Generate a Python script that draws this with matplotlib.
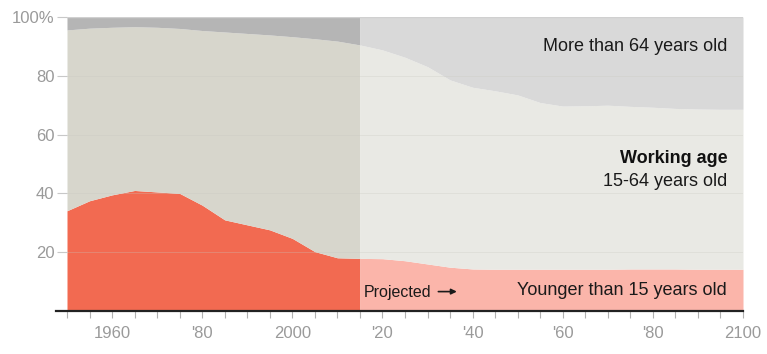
"""Share of population by age group, 1950-2100 (history + projection)."""
import matplotlib
matplotlib.use("Agg")
import matplotlib.pyplot as plt
import numpy as np

plt.rcParams['font.family'] = ['Liberation Sans', 'DejaVu Sans']

# data (percent of population)
years = list(range(1950, 2101, 5))
young_pct = [34.1, 37.5, 39.5, 41.0, 40.5, 40.0, 36.0, 31.0, 29.3, 27.6, 24.7,
             20.2, 18.1, 17.9, 17.8, 17.1, 16.0, 14.9, 14.3, 14.2, 14.2, 14.2,
             14.2, 14.2, 14.2, 14.3, 14.3, 14.3, 14.2, 14.2, 14.2]
old_pct = [4.4, 3.8, 3.5, 3.3, 3.5, 3.9, 4.6, 5.1, 5.6, 6.1, 6.7, 7.4, 8.2,
           9.5, 11.2, 13.7, 16.9, 21.4, 23.9, 25.1, 26.5, 29.1, 30.3, 30.2,
           30.0, 30.4, 30.7, 31.1, 31.3, 31.4, 31.4]
projection_start = 2015

x_ticks = [1960, 1980, 2000, 2020, 2040, 2060, 2080, 2100]
x_ticklabels = ["1960", "'80", "2000", "'20", "'40", "'60", "'80", "2100"]
y_ticks = [20, 40, 60, 80, 100]
y_ticklabels = ["20", "40", "60", "80", "100%"]

yr = np.array(years)
young = np.array(young_pct)
working_top = 100 - np.array(old_pct)

hist = yr <= projection_start
proj = yr >= projection_start

fig = plt.figure(figsize=(7.67, 3.54), dpi=100)
ax = fig.add_axes([67 / 767, 1 - 311 / 354, 676 / 767, 294 / 354])

# historical part
ax.fill_between(yr[hist], 0, young[hist], color='#f26a51', lw=0)
ax.fill_between(yr[hist], young[hist], working_top[hist], color='#d7d6cc', lw=0)
ax.fill_between(yr[hist], working_top[hist], 100, color='#b5b5b5', lw=0)
# projected part
ax.fill_between(yr[proj], 0, young[proj], color='#fbb5aa', lw=0)
ax.fill_between(yr[proj], young[proj], working_top[proj], color='#e9e9e4', lw=0)
ax.fill_between(yr[proj], working_top[proj], 100, color='#d9d9d9', lw=0)

# faint gridlines
for v in [20, 40, 60, 80]:
    ax.axhline(v, color='#c8c8c0', lw=0.6, alpha=0.35, zorder=3)
ax.axhline(100, color='#d0d0d0', lw=1.0, zorder=3)

ax.set_xlim(1950, 2100)
ax.set_ylim(0, 100)
for s in ax.spines.values():
    s.set_visible(False)
# baseline reaches a bit to the left of the plot
ax.plot([-0.016, 1.0], [0, 0], transform=ax.transAxes, color='#222222',
        lw=1.6, clip_on=False, zorder=5)

ax.set_xticks(x_ticks)
ax.set_xticklabels(x_ticklabels)
ax.set_xticks(range(1950, 2101, 5), minor=True)
ax.tick_params(axis='x', which='both', direction='out', length=5, width=0.8,
               color='#b0b0b0', labelsize=12, labelcolor='#9a9a9a', pad=6)
ax.set_yticks(y_ticks)
ax.set_yticklabels(y_ticklabels)
ax.tick_params(axis='y', direction='out', length=7, width=0.8,
               color='#c8c8c8', labelsize=12, labelcolor='#9a9a9a', pad=2)

# labels
lx = 2096.5
ax.text(lx, 89.8, "More than 64 years old", ha='right', va='center',
        fontsize=13, color='#1a1a1a')
ax.text(lx, 52.0, "Working age", ha='right', va='center', fontsize=13,
        fontweight='bold', color='#111111')
ax.text(lx, 44.2, "15-64 years old", ha='right', va='center', fontsize=13,
        color='#1a1a1a')
ax.text(lx, 7.1, "Younger than 15 years old", ha='right', va='center',
        fontsize=13, color='#1a1a1a')
ax.text(2015.8, 6.3, "Projected", ha='left', va='center', fontsize=11.5,
        color='#1a1a1a')
ax.annotate("", xy=(2036.5, 6.6), xytext=(2032.4, 6.6),
            arrowprops=dict(arrowstyle='-|>', color='#1a1a1a', lw=1.2,
                            mutation_scale=8, shrinkA=0, shrinkB=0))

fig.savefig("out.png", dpi=100)
